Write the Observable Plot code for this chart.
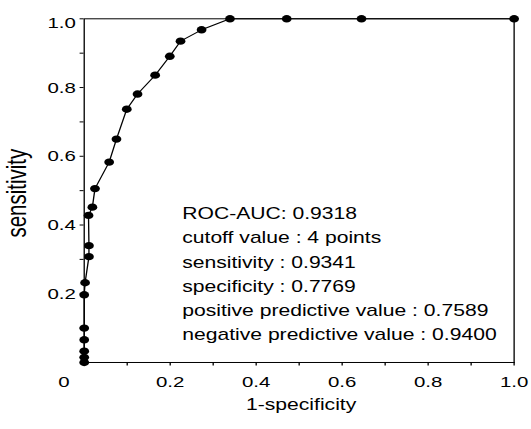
<!DOCTYPE html>
<html><head><meta charset="utf-8">
<script src="https://cdn.jsdelivr.net/npm/d3@7"></script>
<script src="https://cdn.jsdelivr.net/npm/@observablehq/plot@0.6"></script>
<style>
html,body{margin:0;padding:0;background:#fff;overflow:hidden}
#chart svg{display:block;transform:scaleX(1.32);transform-origin:0 0}
</style></head><body><div id="chart"></div>
<script>
// ROC curve points (1-specificity, sensitivity)
const oneMinusSpecificity = [0, 0, 0, 0, 0, 0, 0.002, 0.011, 0.011, 0.010, 0.019, 0.025, 0.058, 0.075, 0.099, 0.124, 0.165, 0.199, 0.224, 0.273, 0.339, 0.471, 0.645, 1.0];
const sensitivity =          [0, 0.015, 0.033, 0.066, 0.100, 0.197, 0.232, 0.308, 0.340, 0.428, 0.452, 0.506, 0.583, 0.650, 0.737, 0.781, 0.836, 0.891, 0.935, 0.968, 1.0, 1.0, 1.0, 1.0];

const xTicks = [0.1, 0.2, 0.3, 0.4, 0.5, 0.6, 0.7, 0.8, 0.9, 1.0];
const xTickLabels = [0.2, 0.4, 0.6, 0.8, 1.0];
const xOriginLabel = [0];
const yTicks = [0.1, 0.2, 0.3, 0.4, 0.5, 0.6, 0.7, 0.8, 0.9, 1.0];
const yTickLabels = [0.2, 0.4, 0.6, 0.8];
const yTopLabel = [1.0];

const statNames = ["ROC-AUC", "cutoff value", "sensitivity", "specificity", "positive predictive value", "negative predictive value"];
const statValues = ["0.9318", "4 points", "0.9341", "0.7769", "0.7589", "0.9400"];
const statSeparators = [": ", " : ", " : ", " : ", " : ", " : "];

const xLabel = "1-specificity";
const yLabel = "sensitivity";

const points = oneMinusSpecificity.map((x, i) => ({x, y: sensitivity[i]}));
const statText = statNames.map((n, i) => n + statSeparators[i] + statValues[i]).join("\n");

const S = 1.32;
const W0 = 531 / S;
const fmt = d => d === 0 ? "0" : d.toFixed(1);
const font = "'Liberation Sans', Arial, Helvetica, sans-serif";
const tickFont = 15.5;

const chart = Plot.plot({
  width: W0,
  height: 429,
  marginLeft: 63.3,
  marginRight: W0 - 389,
  marginTop: 18.3,
  marginBottom: 67,
  x: {domain: [0, 1]},
  y: {domain: [0, 1]},
  style: {fontFamily: font, fontSize: "15.5px", color: "#000", background: "#fff"},
  marks: [
    Plot.frame({stroke: "#000", strokeWidth: 1}),
    Plot.axisX(xTicks, {tickSize: 3.5, tickFormat: () => "", label: null}),
    Plot.axisY(yTicks, {tickSize: 3, tickFormat: () => "", label: null}),
    Plot.text(xTickLabels, {x: d => d, text: fmt, frameAnchor: "bottom", lineAnchor: "bottom", textAnchor: "middle", dy: 24.7, fontSize: tickFont, fill: "#000"}),
    Plot.text(xOriginLabel, {x: d => d, text: fmt, frameAnchor: "bottom", lineAnchor: "bottom", textAnchor: "middle", dy: 24.7, dx: -15.3, fontSize: tickFont, fill: "#000"}),
    Plot.text(yTickLabels, {y: d => d, text: fmt, frameAnchor: "left", lineAnchor: "middle", textAnchor: "end", dx: -6.3, fontSize: tickFont, fill: "#000"}),
    Plot.text(yTopLabel, {y: d => d, text: fmt, frameAnchor: "left", lineAnchor: "middle", textAnchor: "end", dx: -6.3, dy: 4, fontSize: tickFont, fill: "#000"}),
    Plot.line(points, {x: "x", y: "y", stroke: "#000", strokeWidth: 1}),
    Plot.dot(points, {x: "x", y: "y", r: 3.7, fill: "#000", stroke: "none"}),
    Plot.text([statText], {x: 0.228, y: 0.064, textAnchor: "start", lineAnchor: "bottom", lineHeight: 1.52, fontSize: 16, fill: "#000"}),
    Plot.text([xLabel], {frameAnchor: "bottom", lineAnchor: "bottom", textAnchor: "middle", dy: 48, dx: 1.5, fontSize: 16, fill: "#000"}),
    Plot.text([yLabel], {frameAnchor: "left", rotate: -90, textAnchor: "middle", lineAnchor: "bottom", dx: -44.3, dy: 2.5, fontSize: 20.5, fill: "#000"})
  ]
});
document.getElementById("chart").appendChild(chart);
</script>
</body></html>
